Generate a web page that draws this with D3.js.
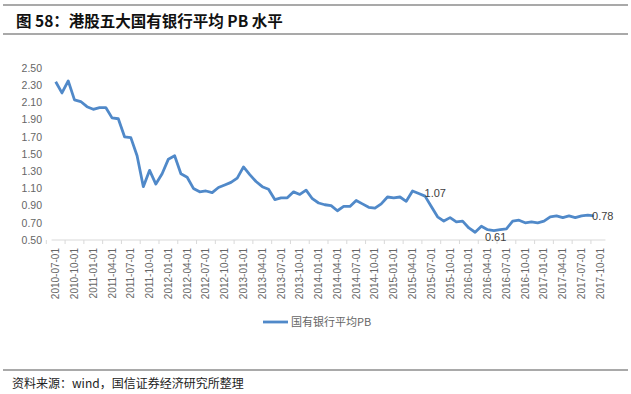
<!DOCTYPE html>
<html>
<head>
<meta charset="utf-8">
<script src="https://cdn.jsdelivr.net/npm/d3@7"></script>
<style>
  body { margin: 0; background: #fff; }
  svg { display: block; font-family: "Noto Sans CJK SC", "Noto Sans", sans-serif; }
</style>
</head>
<body>
<div id="pbChart"></div>
<script>
// monthly average PB of the five big state-owned banks (HK), 2010-07 .. 2017-09
const pbValues = [
  2.34, 2.21, 2.35, 2.13, 2.11, 2.05, 2.02, 2.04, 2.04, 1.92,
  1.91, 1.70, 1.69, 1.48, 1.12, 1.31, 1.15, 1.27, 1.44, 1.48,
  1.27, 1.23, 1.10, 1.06, 1.07, 1.05, 1.11, 1.14, 1.17, 1.22,
  1.35, 1.26, 1.18, 1.12, 1.09, 0.97, 0.99, 0.99, 1.06, 1.03,
  1.08, 0.98, 0.93, 0.91, 0.90, 0.84, 0.89, 0.89, 0.96, 0.92,
  0.88, 0.87, 0.92, 1.00, 0.99, 1.00, 0.95, 1.07, 1.04, 1.01,
  0.89, 0.77, 0.72, 0.76, 0.71, 0.72, 0.64, 0.59, 0.66, 0.62,
  0.61, 0.62, 0.63, 0.72, 0.73, 0.70, 0.71, 0.70, 0.72, 0.77,
  0.78, 0.76, 0.78, 0.76, 0.78, 0.79, 0.78
];

// category axis runs one month past the last value
const months = d3.timeMonth.range(new Date(2010, 6, 1), new Date(2017, 10, 1));

const tickLabels = [
  "2010-07-01", "2010-10-01", "2011-01-01", "2011-04-01", "2011-07-01", "2011-10-01",
  "2012-01-01", "2012-04-01", "2012-07-01", "2012-10-01", "2013-01-01", "2013-04-01",
  "2013-07-01", "2013-10-01", "2014-01-01", "2014-04-01", "2014-07-01", "2014-10-01",
  "2015-01-01", "2015-04-01", "2015-07-01", "2015-10-01", "2016-01-01", "2016-04-01",
  "2016-07-01", "2016-10-01", "2017-01-01", "2017-04-01", "2017-07-01", "2017-10-01"
];

const yTicks = [0.5, 0.7, 0.9, 1.1, 1.3, 1.5, 1.7, 1.9, 2.1, 2.3, 2.5];

// points that carry a data label
const labelIndex = [57, 70, 86];
const labelText = ["1.07", "0.61", "0.78"];

const seriesName = "国有银行平均PB";
const titleText = "图 58：港股五大国有银行平均 PB 水平";
const sourceText = "资料来源：wind，国信证券经济研究所整理";

class PbLine {
  constructor(_data) {
    this.data = _data;
    this.initVis();
  }

  initVis() {
    let vis = this;
    vis.width = 631;
    vis.height = 394;
    vis.fmt = d3.timeFormat("%Y-%m-%d");

    vis.svg = d3.select("#pbChart").append("svg")
      .attr("width", vis.width)
      .attr("height", vis.height);

    // title with rules above and below
    vis.svg.append("line").attr("x1", 3).attr("x2", 628).attr("y1", 5).attr("y2", 5)
      .attr("stroke", "#8c8c8c").attr("stroke-width", 1.6);
    vis.svg.append("line").attr("x1", 3).attr("x2", 628).attr("y1", 34).attr("y2", 34)
      .attr("stroke", "#8c8c8c").attr("stroke-width", 1.6);
    vis.svg.append("text")
      .attr("x", 16).attr("y", 27)
      .attr("font-size", 15.5).attr("font-weight", "bold").attr("fill", "#111")
      .text(titleText);

    // source note
    vis.svg.append("line").attr("x1", 3).attr("x2", 628).attr("y1", 370).attr("y2", 370)
      .attr("stroke", "#8c8c8c").attr("stroke-width", 1.6);
    vis.svg.append("text")
      .attr("x", 12).attr("y", 388)
      .attr("font-size", 12).attr("fill", "#222")
      .text(sourceText);

    vis.xScale = d3.scalePoint()
      .domain(months.map(vis.fmt))
      .range([55.7, 55.7 + 6.26 * (months.length - 1)]);

    vis.yScale = d3.scaleLinear()
      .domain([0.5, 2.5])
      .range([240, 68]);
  }

  updateVis() {
    let vis = this;
    let step = vis.xScale.step();

    // y axis: labels only
    vis.svg.append("g")
      .attr("transform", "translate(44,0)")
      .call(d3.axisLeft(vis.yScale).tickValues(yTicks).tickFormat(d3.format(".2f")).tickSize(0).tickPadding(2))
      .call(g => g.select(".domain").remove())
      .call(g => g.selectAll("text").attr("fill", "#666").attr("font-size", 10.5)
        .attr("font-family", "\"Liberation Sans\", Arial, sans-serif"));

    // x axis
    let xAxis = vis.svg.append("g")
      .attr("transform", "translate(0," + vis.yScale(0.5) + ")");
    xAxis.append("line")
      .attr("x1", vis.xScale.range()[0] - step / 2 - 1)
      .attr("x2", vis.xScale.range()[1] + step / 2 + 2)
      .attr("stroke", "#d9d9d9").attr("stroke-width", 1);
    xAxis.selectAll(".tk")
      .data(tickLabels)
      .enter().append("line")
      .attr("class", "tk")
      .attr("x1", d => vis.xScale(d) - step * 1.5)
      .attr("x2", d => vis.xScale(d) - step * 1.5)
      .attr("y1", 0).attr("y2", 4)
      .attr("stroke", "#d9d9d9");
    xAxis.selectAll(".lbl")
      .data(tickLabels)
      .enter().append("text")
      .attr("class", "lbl")
      .attr("transform", d => "translate(" + (vis.xScale(d) + 3.5) + ",8) rotate(-90)")
      .attr("text-anchor", "end")
      .attr("font-size", 10)
      .attr("font-family", "\"Liberation Sans\", Arial, sans-serif")
      .attr("fill", "#666")
      .text(d => d);

    // the series
    let line = d3.line()
      .x((d, i) => vis.xScale(vis.fmt(months[i])))
      .y(d => vis.yScale(d));

    vis.svg.append("path")
      .datum(vis.data)
      .attr("d", line)
      .attr("fill", "none")
      .attr("stroke", "#5089c9")
      .attr("stroke-width", 2.8)
      .attr("stroke-linejoin", "round");

    // data labels
    let dx = [12, -9, -2];
    let dy = [6, 10, 4];
    vis.svg.append("g").selectAll("text")
      .data(labelIndex)
      .enter().append("text")
      .attr("x", (d, i) => vis.xScale(vis.fmt(months[d])) + dx[i])
      .attr("y", (d, i) => vis.yScale(vis.data[d]) + dy[i])
      .attr("font-size", 11)
      .attr("font-family", "\"Liberation Sans\", Arial, sans-serif")
      .attr("fill", "#404040")
      .text((d, i) => labelText[i]);

    // legend
    vis.svg.append("line")
      .attr("x1", 263).attr("x2", 288).attr("y1", 322).attr("y2", 322)
      .attr("stroke", "#5089c9").attr("stroke-width", 2.8);
    vis.svg.append("text")
      .attr("x", 291).attr("y", 326)
      .attr("font-size", 11).attr("fill", "#666")
      .text(seriesName);
  }
}

let chart = new PbLine(pbValues);
chart.updateVis();
</script>
</body>
</html>
